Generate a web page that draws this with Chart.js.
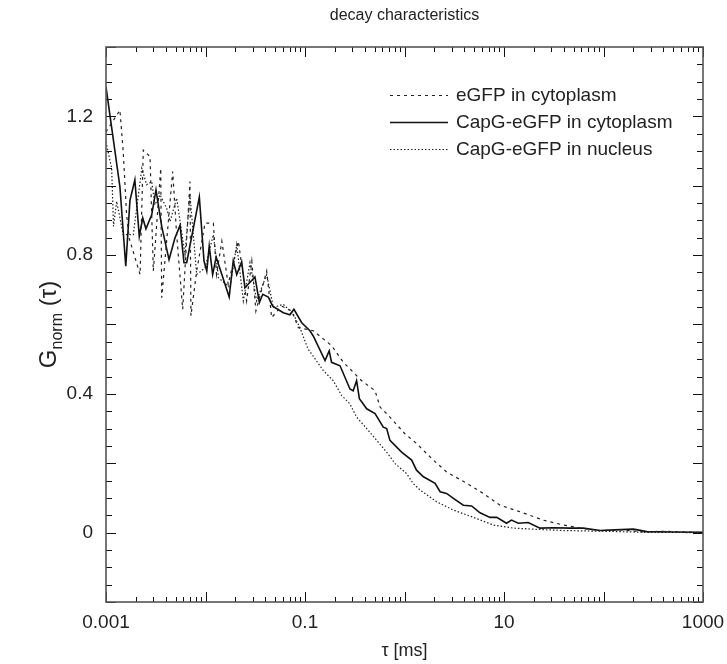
<!DOCTYPE html>
<html><head><meta charset="utf-8">
<script src="https://cdn.jsdelivr.net/npm/chart.js@4.4.0/dist/chart.umd.min.js"></script>
<style>html,body{margin:0;padding:0;background:#fff;}</style>
</head><body>
<canvas id="c" width="727" height="664"></canvas>
<script>
const chartTitle = "decay characteristics";
const xAxisTitle = "τ [ms]";
const yTitleMain = "G", yTitleSub = "norm", yTitleTail = " (τ)";
const seriesLabels = ["eGFP in cytoplasm", "CapG-eGFP in cytoplasm", "CapG-eGFP in nucleus"];
const xTickValues = [0.001, 0.01, 0.1, 1, 10, 100, 1000];
const xTickLabels = ["0.001", "", "0.1", "", "10", "", "1000"];
const yTickValues = [0, 0.4, 0.8, 1.2];
const yTickLabels = ["0", "0.4", "0.8", "1.2"];

// eGFP in cytoplasm (dashed)
const tauEgfpCyto = [0.00100,0.00138,0.00149,0.00161,0.00171,0.00220,0.00237,0.00277,0.00299,0.00355,0.00363,0.00468,0.00513,0.00590,0.00698,0.00714,0.00815,0.00989,0.0120,0.0129,0.0146,0.0169,0.0214,0.0259,0.0292,0.0321,0.0412,0.0462,0.0582,0.0735,0.0857,0.121,0.185,0.243,0.371,0.506,0.568,0.714,1.01,1.32,1.95,2.65,4.22,6.19,9.12,14.5,24.8,39.4,58.1,92.3,150,250,400,1000];
const gEgfpCyto = [1.155,1.218,1.098,0.917,0.849,0.744,1.103,1.084,0.754,1.050,0.677,1.041,0.859,0.644,1.012,0.625,0.754,0.892,0.892,0.744,0.840,0.716,0.840,0.668,0.783,0.639,0.754,0.620,0.653,0.639,0.591,0.582,0.539,0.491,0.438,0.409,0.362,0.333,0.285,0.257,0.209,0.175,0.142,0.113,0.079,0.060,0.036,0.022,0.013,0.006,0.008,0.002,0.004,0.000];

// CapG-eGFP in cytoplasm (solid)
const tauCapgCyto = [0.00100,0.00138,0.00158,0.00174,0.00195,0.00216,0.00234,0.00252,0.00288,0.00318,0.00363,0.00430,0.00493,0.00555,0.00608,0.00647,0.00867,0.00966,0.0103,0.0109,0.0118,0.0128,0.0146,0.0173,0.0190,0.0206,0.0231,0.0249,0.0314,0.0348,0.0376,0.0428,0.0473,0.0605,0.0706,0.0774,0.0927,0.112,0.121,0.159,0.175,0.185,0.225,0.283,0.305,0.330,0.352,0.417,0.506,0.612,0.662,0.714,0.935,1.18,1.32,1.55,2.03,2.28,2.65,3.10,3.90,4.73,5.74,7.23,8.45,10.6,11.9,13.9,17.5,23.0,31.3,46.0,62.7,92.3,130,200,272,500,1000];
const gCapgCyto = [1.285,0.997,0.768,0.957,1.017,0.854,0.907,0.876,0.916,0.988,0.883,0.787,0.849,0.886,0.778,0.778,0.967,0.783,0.754,0.826,0.744,0.794,0.744,0.679,0.783,0.744,0.781,0.706,0.737,0.663,0.687,0.679,0.653,0.634,0.628,0.644,0.605,0.582,0.567,0.496,0.524,0.491,0.481,0.414,0.409,0.438,0.386,0.357,0.343,0.304,0.300,0.266,0.232,0.209,0.180,0.161,0.142,0.118,0.113,0.099,0.079,0.077,0.057,0.044,0.044,0.027,0.036,0.027,0.029,0.013,0.014,0.013,0.013,0.006,0.008,0.010,0.003,0.002,0.001];

// CapG-eGFP in nucleus (dotted)
const tauCapgNuc = [0.00100,0.00114,0.00119,0.00128,0.00149,0.00188,0.00229,0.00256,0.00288,0.00310,0.00349,0.00407,0.00440,0.00513,0.00622,0.00698,0.00815,0.00989,0.0120,0.0135,0.0176,0.0206,0.0240,0.0280,0.0327,0.0412,0.0481,0.0605,0.0764,0.0891,0.107,0.153,0.192,0.234,0.283,0.330,0.417,0.525,0.662,0.804,1.05,1.22,1.43,2.10,3.10,4.92,7.80,12.4,19.7,40,100,250,1000];
const gCapgNuc = [1.127,1.050,0.883,0.955,0.859,0.859,1.050,1.003,1.012,0.945,0.974,0.935,0.897,0.964,0.802,0.974,0.744,0.763,0.859,0.735,0.706,0.830,0.668,0.778,0.668,0.744,0.649,0.658,0.630,0.590,0.530,0.467,0.438,0.395,0.371,0.333,0.300,0.266,0.232,0.199,0.170,0.142,0.123,0.089,0.065,0.044,0.022,0.013,0.010,0.006,0.004,0.001,0.000];

const FONT = "'Liberation Sans', Arial, Helvetica, sans-serif";
const toPts = (xs, ys) => xs.map((v, i) => ({ x: v, y: ys[i] }));

const decor = {
  id: 'decor',
  afterDraw(chart) {
    const { ctx, chartArea: a, scales: { x, y } } = chart;
    ctx.save();
    const seg = (x1, y1, x2, y2) => { ctx.beginPath(); ctx.moveTo(x1, y1); ctx.lineTo(x2, y2); ctx.stroke(); };
    ctx.strokeStyle = '#111'; ctx.lineWidth = 1;
    for (let d = -3; d <= 3; d++) {
      for (let m = 1; m <= 9; m++) {
        const v = m * Math.pow(10, d);
        if (v > 1000.0001) break;
        const px = Math.round(x.getPixelForValue(v)) + 0.5;
        const len = m === 1 ? 10 : 5;
        seg(px, a.bottom, px, a.bottom - len);
        seg(px, a.top, px, a.top + len);
      }
    }
    for (let i = -4; i <= 28; i++) {
      const py = Math.round(y.getPixelForValue(i * 0.05)) + 0.5;
      const len = (i % 4 === 0) ? 10 : 6;
      seg(a.left, py, a.left + len, py);
      seg(a.right, py, a.right - len, py);
    }
    ctx.strokeStyle = '#555'; ctx.lineWidth = 1.6;
    ctx.strokeRect(a.left, a.top, a.right - a.left, a.bottom - a.top);
    ctx.fillStyle = '#222';
    ctx.textAlign = 'center'; ctx.textBaseline = 'middle';
    ctx.font = '16px ' + FONT;
    ctx.fillText(chartTitle, (a.left + a.right) / 2, 16);
    ctx.font = '18px ' + FONT;
    ctx.fillText(xAxisTitle, (a.left + a.right) / 2, 651);
    ctx.save();
    ctx.translate(48, (a.top + a.bottom) / 2);
    ctx.rotate(-Math.PI / 2);
    ctx.textAlign = 'left'; ctx.textBaseline = 'alphabetic';
    const fMain = '24px ' + FONT, fSub = '16px ' + FONT;
    ctx.font = fMain; const w1 = ctx.measureText(yTitleMain).width;
    const w3 = ctx.measureText(yTitleTail).width;
    ctx.font = fSub; const w2 = ctx.measureText(yTitleSub).width;
    let sx = -(w1 + w2 + w3) / 2;
    const base = 8;
    ctx.font = fMain; ctx.fillText(yTitleMain, sx, base); sx += w1;
    ctx.font = fSub; ctx.fillText(yTitleSub, sx, base + 6); sx += w2;
    ctx.font = fMain; ctx.fillText(yTitleTail, sx, base);
    ctx.restore();
    const rows = [95, 122, 149];
    chart.data.datasets.forEach((ds, i) => {
      const ry = rows[i] + 0.5;
      ctx.strokeStyle = ds.borderColor; ctx.lineWidth = ds.borderWidth;
      ctx.setLineDash(ds.borderDash || []);
      seg(390, ry, 448, ry);
      ctx.setLineDash([]);
      ctx.fillStyle = '#222'; ctx.font = '19px ' + FONT;
      ctx.textAlign = 'left'; ctx.textBaseline = 'middle';
      ctx.fillText(ds.label, 456, rows[i] + 1);
    });
    ctx.restore();
  }
};

new Chart(document.getElementById('c'), {
  type: 'line',
  data: {
    datasets: [
      { label: seriesLabels[0], data: toPts(tauEgfpCyto, gEgfpCyto), borderColor: '#222', borderWidth: 1.2, borderDash: [3, 4], pointRadius: 0, tension: 0, fill: false },
      { label: seriesLabels[1], data: toPts(tauCapgCyto, gCapgCyto), borderColor: '#111', borderWidth: 1.6, borderDash: [], pointRadius: 0, tension: 0, fill: false },
      { label: seriesLabels[2], data: toPts(tauCapgNuc, gCapgNuc), borderColor: '#222', borderWidth: 1.2, borderDash: [1.5, 2], pointRadius: 0, tension: 0, fill: false }
    ]
  },
  options: {
    responsive: false,
    animation: false,
    devicePixelRatio: 1,
    layout: { padding: { top: 47, right: 24, left: 0, bottom: 0 } },
    plugins: { legend: { display: false }, tooltip: { enabled: false }, title: { display: false } },
    scales: {
      x: {
        type: 'logarithmic', min: 0.001, max: 1000,
        grid: { display: false, drawTicks: false },
        border: { display: false },
        afterBuildTicks: s => { s.ticks = xTickValues.map(v => ({ value: v })); },
        afterFit: s => { s.height = 62; s.paddingRight = 0; s.paddingLeft = 0; },
        ticks: {
          autoSkip: false, maxRotation: 0, padding: 9, color: '#222',
          font: { size: 19, family: FONT },
          callback: (v) => { const i = xTickValues.findIndex(t => Math.abs(t - v) / t < 1e-6); return i >= 0 ? xTickLabels[i] : ''; }
        }
      },
      y: {
        type: 'linear', min: -0.2, max: 1.4,
        grid: { display: false, drawTicks: false },
        border: { display: false },
        afterBuildTicks: s => { s.ticks = yTickValues.map(v => ({ value: v })); },
        afterFit: s => { s.width = 106; s.paddingTop = 0; s.paddingBottom = 0; },
        ticks: {
          autoSkip: false, padding: 13, color: '#222',
          font: { size: 19, family: FONT },
          callback: (v) => { const i = yTickValues.findIndex(t => Math.abs(t - v) < 1e-9); return i >= 0 ? yTickLabels[i] : ''; }
        }
      }
    }
  },
  plugins: [decor]
});
</script>
</body></html>
